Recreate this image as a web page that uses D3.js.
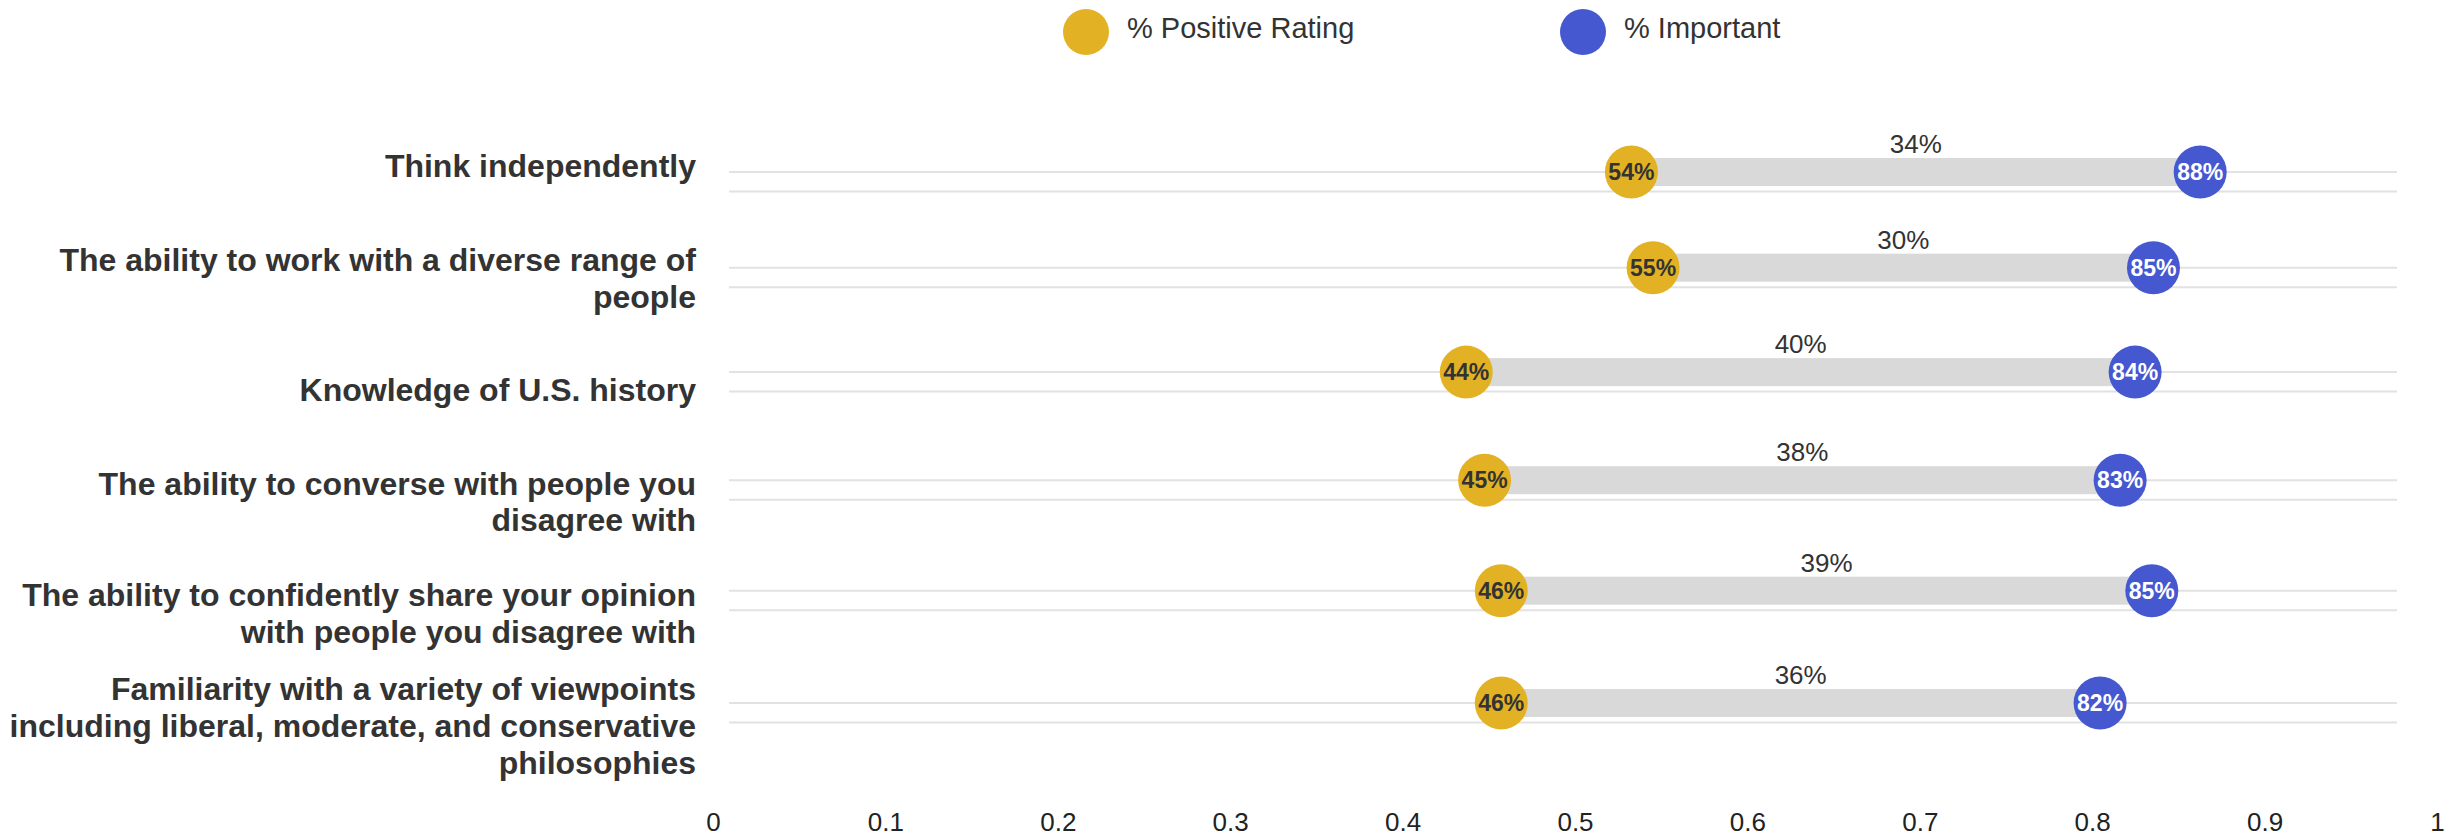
<!DOCTYPE html>
<html>
<head>
<meta charset="utf-8">
<script src="https://cdn.jsdelivr.net/npm/d3@7"></script>
<style>
  body { margin: 0; background: #fff; }
  svg { display: block; }
  svg text { font-family: "Liberation Sans", Arial, sans-serif; }
</style>
</head>
<body>
<div class="chart"></div>
<script>
// categories (line breaks as in the original labels)
var categories = [
    "Think independently",
    "The ability to work with a diverse range of\npeople",
    "Knowledge of U.S. history",
    "The ability to converse with people you\ndisagree with",
    "The ability to confidently share your opinion\nwith people you disagree with",
    "Familiarity with a variety of viewpoints\nincluding liberal, moderate, and conservative\nphilosophies"
];
var positiveRating = [0.541, 0.554, 0.442, 0.453, 0.463, 0.463];
var important = [0.882, 0.854, 0.843, 0.834, 0.853, 0.822];
var xTicks = [0, 0.1, 0.2, 0.3, 0.4, 0.5, 0.6, 0.7, 0.8, 0.9, 1];
var seriesNames = ["% Positive Rating", "% Important"];

var width = 2460, height = 838;
var yellow = "#e3b224", blue = "#4658d0";

var svg = d3.select(".chart").append("svg")
    .attr("width", width)
    .attr("height", height);

var data = categories.map(function (c, i) {
    return { cat: c, i: i, pos: positiveRating[i], imp: important[i] };
});

// data area and tick label spacing differ slightly in the original
var x = d3.scaleLinear().domain([0, 1]).range([729, 2397]);
var xLab = d3.scaleLinear().domain([0, 1]).range([713, 2437]);
// rows get a little further apart going down
var y = d3.scalePow().exponent(1.065).domain([0, categories.length - 1]).range([172, 703]);
var yLabel = d3.scalePoint().domain(categories).range([166.7, 726.3]);

// gridlines, two per row
var grid = svg.append("g");
data.forEach(function (d) {
    [0, 19.5].forEach(function (off) {
        grid.append("line")
            .attr("x1", x(0)).attr("x2", x(1))
            .attr("y1", y(d.i) + off).attr("y2", y(d.i) + off)
            .attr("stroke", "#e2e2e2")
            .attr("stroke-width", 2);
    });
});

// connecting bars
svg.selectAll(".bar")
    .data(data)
    .enter().append("rect")
    .attr("class", "bar")
    .attr("x", function (d) { return x(d.pos); })
    .attr("width", function (d) { return x(d.imp) - x(d.pos); })
    .attr("y", function (d) { return y(d.i) - 14; })
    .attr("height", 28)
    .attr("fill", "#d9d9d9");

// gap labels
svg.selectAll(".gap")
    .data(data)
    .enter().append("text")
    .attr("class", "gap")
    .attr("x", function (d) { return (x(d.pos) + x(d.imp)) / 2; })
    .attr("y", function (d) { return y(d.i) - 19; })
    .attr("text-anchor", "middle")
    .attr("font-size", 26)
    .attr("fill", "#333")
    .text(function (d) { return d3.format(".0%")(d.imp - d.pos); });

// dots
function dots(key, color, textColor) {
    var g = svg.selectAll(".dot-" + key)
        .data(data)
        .enter().append("g")
        .attr("class", "dot-" + key)
        .attr("transform", function (d) { return "translate(" + x(d[key]) + "," + y(d.i) + ")"; });
    g.append("circle").attr("r", 26.5).attr("fill", color);
    g.append("text")
        .attr("text-anchor", "middle")
        .attr("dy", "0.36em")
        .attr("font-size", 23)
        .attr("font-weight", "bold")
        .attr("fill", textColor)
        .text(function (d) { return d3.format(".0%")(d[key]); });
}
dots("pos", yellow, "#333");
dots("imp", blue, "#fff");

// category labels
var lh = 36.8;
svg.selectAll(".cat")
    .data(data)
    .enter().append("text")
    .attr("class", "cat")
    .attr("text-anchor", "end")
    .attr("font-size", 32)
    .attr("font-weight", "bold")
    .attr("fill", "#333")
    .each(function (d) {
        var lines = d.cat.split("\n");
        var t = d3.select(this);
        lines.forEach(function (l, j) {
            t.append("tspan")
                .attr("x", 696)
                .attr("y", yLabel(d.cat) + (j - (lines.length - 1) / 2) * lh + 10.5)
                .text(l);
        });
    });

// x axis (labels only)
var xAxis = svg.append("g")
    .attr("transform", "translate(0,831)")
    .call(d3.axisBottom(xLab).tickValues(xTicks).tickSize(0).tickFormat(d3.format("~g")));
xAxis.attr("font-family", null);
xAxis.select(".domain").remove();
xAxis.selectAll("text")
    .attr("y", 0).attr("dy", 0)
    .attr("font-size", 26)
    .attr("fill", "#222");

// legend
var legendX = [1086, 1583];
var legend = svg.selectAll(".legend")
    .data(seriesNames)
    .enter().append("g")
    .attr("class", "legend")
    .attr("transform", function (d, i) { return "translate(" + legendX[i] + ",32)"; });
legend.append("circle")
    .attr("r", 23)
    .attr("fill", function (d, i) { return i === 0 ? yellow : blue; });
legend.append("text")
    .attr("x", 41)
    .attr("y", 6)
    .attr("font-size", 29)
    .attr("fill", "#333")
    .text(function (d) { return d; });
</script>
</body>
</html>
